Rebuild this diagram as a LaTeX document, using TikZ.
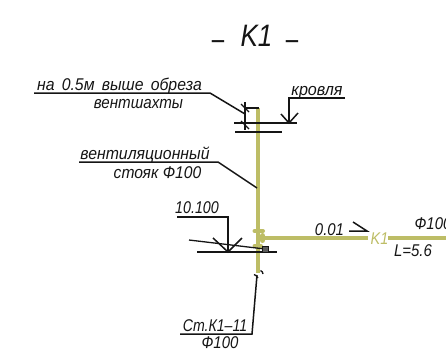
\documentclass[tikz,border=0pt]{standalone}
\usepackage{fontspec}
\usepackage{graphicx}
\setmainfont{Liberation Sans}
\definecolor{pipe}{HTML}{BDBD66}
\definecolor{ink}{HTML}{151515}
\newcommand\sx[2]{\scalebox{#1}[1]{#2}}
\tikzset{
  lbl/.style={font=\itshape\fontsize{17}{17}\selectfont, text=ink, inner sep=0pt, anchor=base},
  ttl/.style={font=\fontsize{31}{31}\selectfont, text=ink, inner sep=0pt, anchor=base},
  lead/.style={draw=ink, line width=1.5pt},
  thin/.style={draw=ink, line width=1.3pt},
  pipeline/.style={draw=pipe, line width=4pt},
  pill/.style={draw=pipe, line width=4pt, line cap=round}
}
\begin{document}
\begin{tikzpicture}[x=1pt,y=-1pt]
\useasboundingbox (0,0) rectangle (446,360);
\clip (0,0) rectangle (446,360);
% title
\node[ttl, font=\itshape\fontsize{31}{31}\selectfont] (title) at (256.5,46) {\sx{.84}{K1}};
\node[ttl] (d1) at (218,49) {\sx{.72}{–}};
\node[ttl] (d2) at (292,49) {\sx{.72}{–}};
% coordinates
\coordinate (rt) at (258,108);
\coordinate (rb) at (258,273);
\coordinate (bs) at (263,238);
\coordinate (be) at (368,238);
\coordinate (bs2) at (388,238);
\coordinate (be2) at (446,238);
% pipes
\draw[pipeline] (rt) -- (rb);
\draw[pipeline] (bs) -- (be);
\draw[pipeline] (bs2) -- (be2);
\draw[pill] (254.5,231) -- (263,231);
\draw[pill] (254.5,246) -- (261,246);
\draw[pill, line width=5pt] (262.5,235.5) -- (262.5,240.5);
\node[lbl, text=pipe] (k1) at (379.5,244) {\sx{.85}{K1}};
% top marks
\draw[thin] (244,108) -- (259,108);
\draw[thin] (234,123) -- (297,123);
\draw[thin] (235,132) -- (282,132);
\draw[thin] (245,102) -- (245,130);
\draw[thin] (241,104) -- (249,112);
\draw[thin] (241,121) -- (249,129);
% top leader
\node[lbl] (t1) at (119.5,90) {\sx{.93}{на\hspace{3pt} 0.5м\hspace{3pt} выше\hspace{3pt} обреза}};
\node[lbl] (t2) at (138.5,108) {\sx{.89}{вентшахты}};
\coordinate (u1) at (34,93); \coordinate (u2) at (210,93); \coordinate (u3) at (245,114);
\draw[lead] (u1) -- (u2) -- (u3);
% riser leader
\node[lbl] (t3) at (145,159) {\sx{.93}{вентиляционный}};
\node[lbl] (t4) at (157.5,178) {\sx{.92}{стояк Ф100}};
\coordinate (v1) at (79,162); \coordinate (v2) at (218,162); \coordinate (v3) at (257,188);
\draw[lead] (v1) -- (v2) -- (v3);
% roof
\node[lbl] (t5) at (317,95) {\sx{.95}{кровля}};
\coordinate (k2) at (345,98); \coordinate (k3) at (289,98); \coordinate (k4) at (289,123);
\draw[lead] (k2) -- (k3) -- (k4);
\draw[lead] (281,114) -- (k4) -- (298,113);
% level
\node[lbl] (t6) at (197,213) {\sx{.84}{10.100}};
\coordinate (m1) at (177,217); \coordinate (m2) at (228,217); \coordinate (m3) at (228,252);
\draw[lead] (m1) -- (m2) -- (m3);
\draw[lead] (197,252) -- (277,252);
\draw[lead] (213,238) -- (m3) -- (242,238);
\draw[thin] (189,240) -- (265,249);
\node[draw=ink, fill=ink!70!white, line width=1pt, minimum size=6pt, inner sep=0pt] (sq) at (265.5,249) {};
% slope
\node[lbl] (t7) at (329.5,235) {\sx{.88}{0.01}};
\draw[lead] (349,231) -- (367,231) -- (353,222);
\node[lbl] (t8) at (433,229) {\sx{.88}{Ф100}};
\node[lbl] (t9) at (413,256) {\sx{.88}{L=5.6}};
% break
\draw[thin] (254,274.5) .. controls (255.5,275) and (257,276) .. (258,278);
\draw[thin] (260.5,270.5) .. controls (262,271) and (263,272.5) .. (263,274);
% bottom
\node[lbl] (t10) at (215,331) {\sx{.83}{Ст.К1–11}};
\node[lbl] (t11) at (220,348) {\sx{.88}{Ф100}};
\coordinate (c1) at (180,334); \coordinate (c2) at (252,334); \coordinate (c3) at (257,275);
\draw[lead] (c1) -- (c2) -- (c3);
\end{tikzpicture}
\end{document}
